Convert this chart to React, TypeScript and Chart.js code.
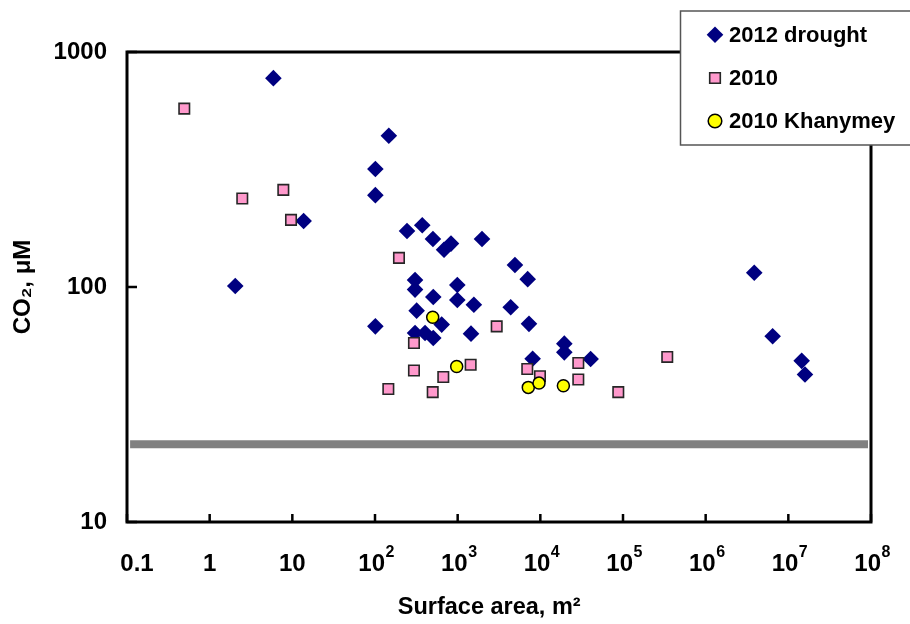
import React, { useEffect, useRef } from 'react';
import { Chart, registerables } from 'chart.js';

Chart.register(...registerables);

// ---- data ----
const droughtArea = [5.9, 147, 101, 101, 13.7, 2.04, 244, 373, 502, 684, 830, 1970, 4930, 7030, 3.87e6, 990, 990, 1570, 4380, 305, 305, 507, 7290, 319, 101, 305, 403, 507, 641, 1450, 8070, 19500, 19500, 40600, 6.46e6, 1.45e7, 1.59e7];
const droughtCO2 = [774, 440, 318, 246, 191, 101, 173, 183, 160, 144, 153, 160, 124, 108, 115, 102, 88, 84, 82, 107, 97.5, 90.6, 69.7, 79.3, 68, 63.7, 63.7, 60.7, 69.2, 63.3, 49.5, 57.4, 52.7, 49.4, 61.7, 48.5, 42.4];

const y2010Area = [0.493, 2.48, 7.78, 9.64, 195, 296, 296, 145, 499, 670, 1436, 2966, 6950, 9900, 28800, 28800, 87700, 343000];
const y2010CO2 = [574, 238, 259, 193, 133, 57.8, 44.1, 36.8, 35.7, 41.4, 46.7, 68, 44.8, 41.7, 47.5, 40.4, 35.7, 50.4];

const khanymeyArea = [499, 973, 7150, 9640, 19000];
const khanymeyCO2 = [74.3, 45.9, 37.4, 39.0, 38.0];

const refLineArea = [0.109, 9.2e7];
const refLineCO2 = [21.4, 21.4];

const xTickValues = [0.1, 1, 10, 100, 1e3, 1e4, 1e5, 1e6, 1e7, 1e8];
const xTickBases = ['   0.1', '1', '10', '10 ', '10 ', '10 ', '10 ', '10 ', '10 ', '10 '];
const xTickExponents = ['', '', '', '2', '3', '4', '5', '6', '7', '8'];
const yTickValues = [10, 100, 1000];
const yTickLabels = ['10', '100', '1000'];

const seriesLabels = ['2012 drought', '2010', '2010 Khanymey'];

const FONT = "'Liberation Sans', Arial, Helvetica, sans-serif";
const TICK_SIZE = 24;

const toPts = (xs: number[], ys: number[]) => xs.map((x, i) => ({ x, y: ys[i] }));

export default function App() {
  const ref = useRef<HTMLCanvasElement>(null);

  useEffect(() => {
    document.body.style.margin = '0';
    if (!ref.current) return;

    const framePlugin = {
      id: 'frameAndLegend',
      afterDatasetsDraw(chart: any) {
        const { ctx, chartArea: a, scales } = chart;
        ctx.save();
        // inward tick marks
        ctx.strokeStyle = '#000';
        ctx.lineWidth = 2.5;
        ctx.beginPath();
        xTickValues.forEach((v) => {
          const px = scales.x.getPixelForValue(v);
          ctx.moveTo(px, a.bottom);
          ctx.lineTo(px, a.bottom - 8);
        });
        yTickValues.forEach((v) => {
          const py = scales.y.getPixelForValue(v);
          ctx.moveTo(a.left, py);
          ctx.lineTo(a.left + 10, py);
        });
        ctx.stroke();
        // plot frame
        ctx.lineWidth = 3;
        ctx.strokeRect(a.left, a.top, a.right - a.left, a.bottom - a.top);

        // exponents of the x tick labels
        ctx.fillStyle = '#000';
        ctx.textBaseline = 'alphabetic';
        xTickValues.forEach((v, i) => {
          const e = xTickExponents[i];
          if (!e) return;
          const px = scales.x.getPixelForValue(v);
          ctx.font = `bold ${TICK_SIZE}px ${FONT}`;
          const W = ctx.measureText(xTickBases[i]).width;
          const w10 = ctx.measureText('10').width;
          ctx.font = `bold 16px ${FONT}`;
          ctx.textAlign = 'left';
          ctx.fillText(e, px - W / 2 + w10 + 0.5, a.bottom + 35);
        });

        // legend box
        const bx = 680.5, by = 11, bw = 260, bh = 134;
        ctx.fillStyle = '#fff';
        ctx.fillRect(bx, by, bw, bh);
        ctx.strokeStyle = '#555';
        ctx.lineWidth = 1.5;
        ctx.strokeRect(bx, by, bw, bh);

        const rows = [34.7, 78, 121];
        const mx = 715;
        const ds = chart.data.datasets;
        rows.forEach((ry, i) => {
          const d = ds[i];
          ctx.fillStyle = d.backgroundColor;
          ctx.strokeStyle = d.borderColor;
          ctx.lineWidth = d.borderWidth || 0;
          ctx.beginPath();
          if (d.pointStyle === 'rectRot') {
            const r = 8.3;
            ctx.moveTo(mx, ry - r);
            ctx.lineTo(mx + r, ry);
            ctx.lineTo(mx, ry + r);
            ctx.lineTo(mx - r, ry);
            ctx.closePath();
            ctx.fill();
          } else if (d.pointStyle === 'rect') {
            ctx.rect(mx - 5.3, ry - 5.3, 10.6, 10.6);
            ctx.fill();
            ctx.stroke();
          } else {
            ctx.arc(mx, ry, 6.8, 0, Math.PI * 2);
            ctx.fill();
            ctx.stroke();
          }
          ctx.fillStyle = '#000';
          ctx.font = `bold 22px ${FONT}`;
          ctx.textBaseline = 'middle';
          ctx.textAlign = 'left';
          ctx.fillText(seriesLabels[i], 729, ry + 1);
        });
        ctx.restore();
      },
    };

    const tickFont = { family: FONT, size: TICK_SIZE, weight: 'bold' as const };

    const chart = new Chart(ref.current, {
      type: 'scatter',
      data: {
        datasets: [
          {
            label: seriesLabels[0],
            data: toPts(droughtArea, droughtCO2),
            pointStyle: 'rectRot',
            pointRadius: 8.3,
            backgroundColor: '#000080',
            borderColor: '#000080',
            borderWidth: 0,
            order: 3,
          },
          {
            label: seriesLabels[1],
            data: toPts(y2010Area, y2010CO2),
            pointStyle: 'rect',
            pointRadius: 7.4,
            backgroundColor: '#FF99CC',
            borderColor: '#262626',
            borderWidth: 1.6,
            order: 2,
          },
          {
            label: seriesLabels[2],
            data: toPts(khanymeyArea, khanymeyCO2),
            pointStyle: 'circle',
            pointRadius: 6,
            backgroundColor: '#FFFF00',
            borderColor: '#000000',
            borderWidth: 1.5,
            order: 1,
          },
          {
            type: 'line',
            label: 'reference',
            data: toPts(refLineArea, refLineCO2),
            showLine: true,
            borderColor: '#808080',
            backgroundColor: '#808080',
            borderWidth: 8,
            pointRadius: 0,
            order: 4,
          } as any,
        ],
      },
      options: {
        animation: false,
        responsive: true,
        maintainAspectRatio: false,
        layout: { padding: { top: 52, right: 39, left: 0, bottom: 0 } },
        plugins: { legend: { display: false }, tooltip: { enabled: false } },
        scales: {
          x: {
            type: 'logarithmic',
            position: 'bottom',
            min: 0.1,
            max: 1e8,
            grid: { display: false, drawTicks: false },
            border: { display: false },
            afterBuildTicks: (s: any) => {
              s.ticks = xTickValues.map((v) => ({ value: v }));
            },
            afterFit: (s: any) => {
              s.height = 102;
              s.paddingLeft = 0;
              s.paddingRight = 0;
            },
            ticks: {
              autoSkip: false,
              maxRotation: 0,
              minRotation: 0,
              padding: 28,
              color: '#000',
              font: tickFont,
              callback: (_v: any, i: number) => xTickBases[i],
            },
            title: {
              display: true,
              text: 'Surface area, m\u00B2   ',
              color: '#000',
              font: { family: FONT, size: 23.5, weight: 'bold' as const },
              padding: { top: 0, bottom: 2 },
            },
          },
          y: {
            type: 'logarithmic',
            position: 'left',
            min: 10,
            max: 1000,
            grid: { display: false, drawTicks: false },
            border: { display: false },
            afterBuildTicks: (s: any) => {
              s.ticks = yTickValues.map((v) => ({ value: v }));
            },
            afterFit: (s: any) => {
              s.width = 127;
            },
            ticks: {
              autoSkip: false,
              padding: 20,
              color: '#000',
              font: tickFont,
              callback: (_v: any, i: number) => yTickLabels[i],
            },
            title: {
              display: true,
              text: 'CO\u2082, \u03BCM',
              color: '#000',
              font: { family: FONT, size: 24, weight: 'bold' as const },
              padding: { top: 9, bottom: 0 },
            },
          },
        },
      },
      plugins: [framePlugin],
    });

    return () => chart.destroy();
  }, []);

  return (
    <div style={{ position: 'relative', width: 910, height: 624 }}>
      <canvas ref={ref} />
    </div>
  );
}
